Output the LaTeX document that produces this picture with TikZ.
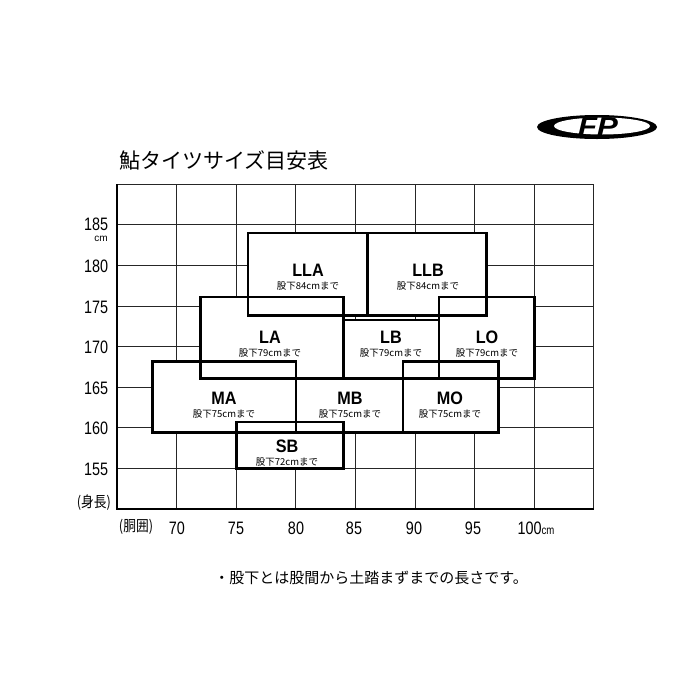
\documentclass[tikz,border=0pt]{standalone}
\usepackage{fontspec}
\setmainfont{Liberation Sans}
\newfontfamily\jp{Noto Sans CJK JP}
\begin{document}
\begin{tikzpicture}[x=1pt,y=-1pt,
  grid/.style={line width=0.8pt,black!85},
  box/.style={line width=2.6pt},
  lab/.style={font=\fontsize{18}{18}\selectfont\bfseries, xscale=0.9},
  sub/.style={font=\jp\fontsize{9.5}{9.5}\selectfont},
  ax/.style={font=\fontsize{18}{18}\selectfont,xscale=0.8}]
\useasboundingbox[fill=white] (0,0) rectangle (675,675);
% logo
\fill (597,127) ellipse [x radius=60, y radius=12];
\fill[white] (602,126) ellipse [x radius=48, y radius=8.5];
\node[font=\fontsize{26}{26}\selectfont\bfseries\itshape, xscale=1.2, inner sep=0] (logo) at (598,127) {FP};
% title
\node[font=\jp\fontsize{21}{21}\selectfont, anchor=west] (title) at (116,160) {鮎タイツサイズ目安表};
\begin{scope}[shift={(117,509)}, x=11.92pt, y=8.12pt]
  \foreach \v in {5,10,...,35} \draw[grid] (\v,0) -- (\v,40);
  \foreach \h in {5,10,...,35} \draw[grid] (0,\h) -- (40,\h);
  \draw[grid] (0,40) -- (40,40) -- (40,0);
  \draw[line width=1.6pt] (0,40) -- (0,0) -- (40,0);
  \foreach \a/\b/\c/\d in {11/23.8/21/34, 21/23.8/31/34, 7/16.1/19/26.1, 19/16.1/27/23.3, 27/16.1/35/26.1, 3/9.4/15/18.2, 15/9.4/24/16.1, 24/9.4/32/18.2, 10/5/19/10.7}
    \fill[white] (\a,\b) rectangle (\c,\d);
  \foreach \a/\b/\c/\d in {11/23.8/21/34, 21/23.8/31/34, 7/16.1/19/26.1, 19/16.1/27/23.3, 27/16.1/35/26.1, 3/9.4/15/18.2, 15/9.4/24/16.1, 24/9.4/32/18.2, 10/5/19/10.7}
    \draw[box] (\a,\b) rectangle (\c,\d);
\end{scope}
\foreach \n/\x/\y/\s in {LLA/308/270/84, LLB/428/270/84, LA/270/337/79, LB/391/337/79, LO/487/337/79, MA/224/398/75, MB/350/398/75, MO/450/398/75, SB/287/446/72}{
  \node[lab] (l\n) at (\x,\y) {\n};
  \node[sub] (s\n) at (\x,\y+16) {股下\s cmまで};
}
\foreach \h/\y in {185/224,180/266,175/307,170/347,165/388,160/428,155/469}
  \node[ax, anchor=east] (y\h) at (111,\y) {\h};
\node[font=\fontsize{10}{10}\selectfont, anchor=east, inner sep=0] (ycm) at (108,239) {cm};
\node[font=\jp\fontsize{15}{15}\selectfont, anchor=east, xscale=0.85] (ylab) at (114,503) {(身長)};
\node[font=\jp\fontsize{15}{15}\selectfont, xscale=0.85] (xlab) at (136,527) {(胴囲)};
\foreach \v/\x in {70/177,75/236,80/296,85/354,90/414,95/473}
  \node[ax] (x\v) at (\x,528) {\v};
\node[ax] (x100) at (536,528) {100\fontsize{12}{12}\selectfont cm};
\node[font=\jp\fontsize{15}{15}\selectfont] (note) at (371,578) {・股下とは股間から土踏まずまでの長さです。};
\end{tikzpicture}
\end{document}
